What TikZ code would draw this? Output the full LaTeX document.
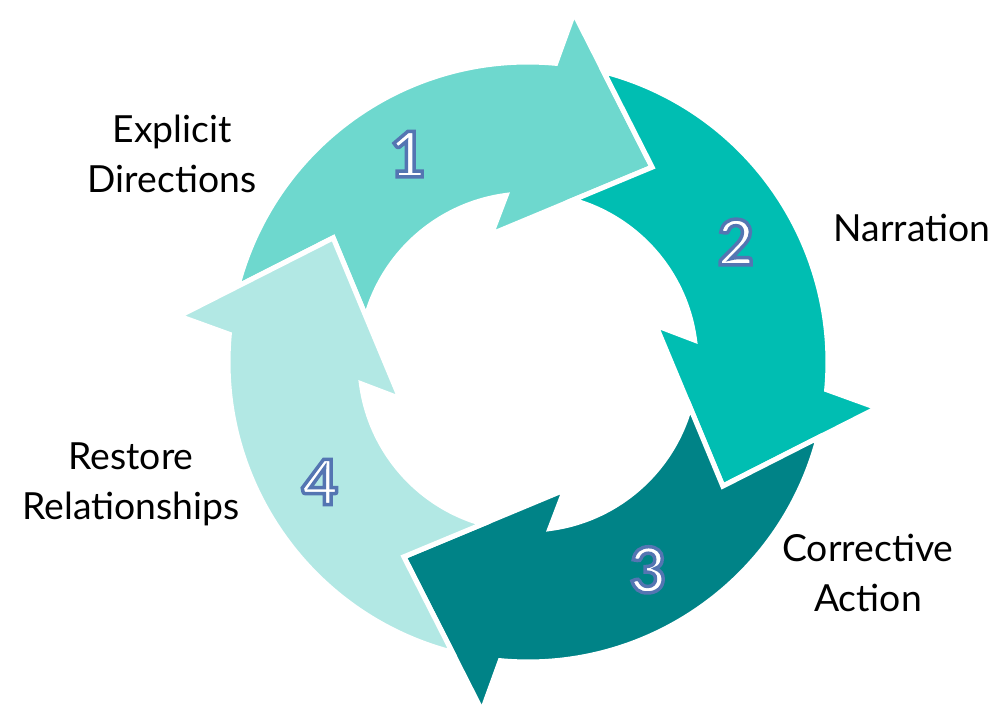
\documentclass[tikz,border=0pt]{standalone}
\usepackage{fontspec}
\setmainfont{Lato}
\usepackage{tikz}
\usetikzlibrary{positioning}
\definecolor{segone}{RGB}{110,216,206}
\definecolor{segtwo}{RGB}{0,190,178}
\definecolor{segthree}{RGB}{0,131,135}
\definecolor{segfour}{RGB}{178,232,228}
% white digit with a blue outline (fill+stroke text mode)
\newcommand{\outlinedigit}[1]{%
  \special{pdf:literal direct 2 Tr 2.6 w 0.33 0.46 0.70 RG}#1%
  \special{pdf:literal direct 0 Tr}}

\begin{document}
\begin{tikzpicture}[
      x=0.75pt,y=0.75pt,
      seg_arrow/.style={
         draw=white,
         line width=3.8pt,
         line join=miter},
      num_txt/.style={
         text=white,
         inner sep=0pt,
         font=\fontsize{47}{47}\selectfont\bfseries},
      label_txt/.style={
         text=black,
         align=center,
         inner sep=0pt,
         font=\fontsize{28}{37.5}\selectfont}
]
      \useasboundingbox (-528,-344) rectangle (473,362);
      %ring: outer radius 300, inner radius 168
      \foreach \k/\col in {0/segone,1/segtwo,2/segthree,3/segfour}
      \fill[seg_arrow,fill=\col,rotate=-90*\k]
         (165.4:300) arc[start angle=165.4,end angle=84.7,radius=300]
         -- (82.5:352) -- (57.5:231) -- (106:133)
         -- (97.5:168) arc[start angle=97.5,end angle=164.5,radius=168]
         -- (147.5:231) -- cycle;

      %numbers
      \foreach \k/\n in {0/1,1/2,2/3,3/4}
      \node[num_txt] (n\n) at (120-90*\k:240) {\outlinedigit{\n}};

      %labels
      \node[label_txt] (explicit) at (-356,208) {Explicit\\Directions};
      \node[label_txt] (narration) at (384,134) {Narration};
      \node[label_txt] (corrective) at (340,-211) {Corrective\\Action};
      \node[label_txt] (restore) at (-397,-122) {Restore\\Relationships};
\end{tikzpicture}
\end{document}
